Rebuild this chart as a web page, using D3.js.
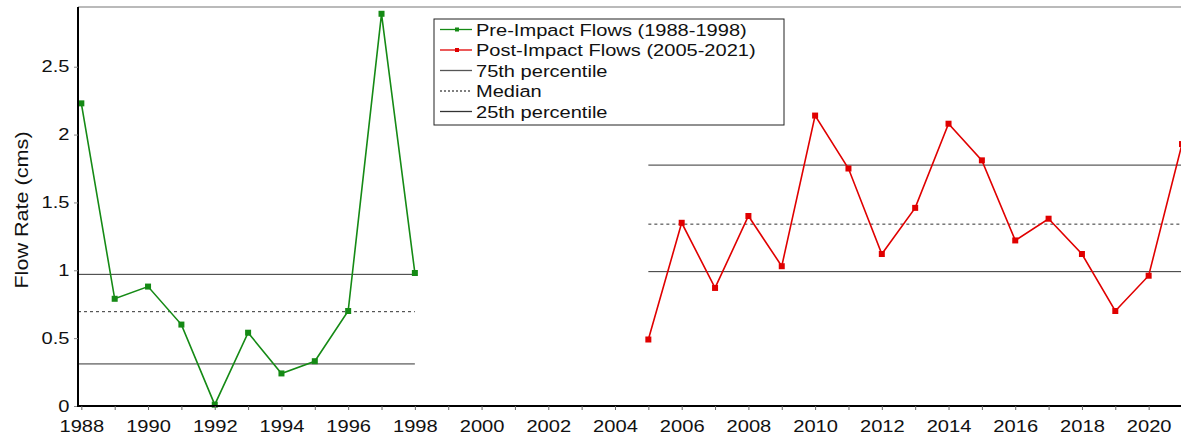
<!DOCTYPE html>
<html>
<head>
<meta charset="utf-8">
<script src="https://cdn.jsdelivr.net/npm/d3@7"></script>
<style>
	body { margin: 0; background: #fff; }
	svg text { font-family: "Liberation Sans", Arial, sans-serif; fill: #111; }
</style>
</head>
<body>
<svg id="chart" width="1181" height="436"></svg>
<script>
	// pre-impact flows
	let preYears = [1988,1989,1990,1991,1992,1993,1994,1995,1996,1997,1998];
	let preFlows = [2.23,0.79,0.88,0.60,0.01,0.54,0.24,0.33,0.70,2.89,0.98];
	let prePct = {p25: 0.31, median: 0.695, p75: 0.97};

	// post-impact flows
	let postYears = [2005,2006,2007,2008,2009,2010,2011,2012,2013,2014,2015,2016,2017,2018,2019,2020,2021];
	let postFlows = [0.49,1.35,0.87,1.40,1.03,2.14,1.75,1.12,1.46,2.08,1.81,1.22,1.38,1.12,0.70,0.96,1.93];
	let postPct = {p25: 0.99, median: 1.34, p75: 1.775};

	let yTicks = [0,0.5,1,1.5,2,2.5];
	let legendLabels = ["Pre-Impact Flows (1988-1998)","Post-Impact Flows (2005-2021)","75th percentile","Median","25th percentile"];

	let svg = d3.select("#chart");
	let margin = {left: 78, top: 7, bottom: 30};
	let width = 1181, height = 436;
	let stretch = 1.22; // reference text is drawn wider than plain Arial

	let x = d3.scaleLinear().domain([1987.9, 2021]).range([margin.left, 1182]);
	let y = d3.scaleLinear().domain([0, 2.94]).range([406, margin.top]);

	let plot = svg.append("g");

	// top frame line
	plot.append("line")
		.attr("x1", margin.left).attr("x2", width)
		.attr("y1", margin.top).attr("y2", margin.top)
		.attr("stroke", "#777").attr("stroke-width", 1.2);

	// percentile lines
	function pctLines(pct, x1, x2){
		let rows = [["p75",null],["median","3,3"],["p25",null]];
		for(let r of rows){
			plot.append("line")
				.attr("x1", x1).attr("x2", x2)
				.attr("y1", y(pct[r[0]])).attr("y2", y(pct[r[0]]))
				.attr("stroke", "#333").attr("stroke-width", 1)
				.attr("stroke-dasharray", r[1]);
		}
	}
	pctLines(prePct, margin.left, x(1998));
	pctLines(postPct, x(2005), width);

	function series(years, vals, color){
		let pts = years.map(function(d,i){ return [d, vals[i]]; });
		plot.append("path")
			.datum(pts)
			.attr("fill", "none")
			.attr("stroke", color)
			.attr("stroke-width", 1.6)
			.attr("d", d3.line().x(function(d){ return x(d[0]); }).y(function(d){ return y(d[1]); }));
		plot.selectAll(null)
			.data(pts)
			.enter()
			.append("rect")
			.attr("x", function(d){ return x(d[0]) - 3; })
			.attr("y", function(d){ return y(d[1]) - 3; })
			.attr("width", 6).attr("height", 6)
			.attr("fill", color);
	}
	series(preYears, preFlows, "#158a15");
	series(postYears, postFlows, "#e00000");

	// axes
	let yAxis = d3.axisLeft(y).tickValues(yTicks).tickSize(4).tickPadding(3)
		.tickFormat(function(d){ return d; });
	let gy = svg.append("g").attr("transform", "translate(" + margin.left + ",0)").call(yAxis);
	gy.select(".domain").attr("stroke", "#000").attr("stroke-width", 2)
		.attr("d", "M0," + y(0) + "V" + margin.top);
	gy.selectAll(".tick line").attr("stroke", "#888");
	gy.selectAll("text").style("font-size", "16.5px")
		.attr("transform", "scale(" + stretch + ",1)");

	let xAxis = d3.axisBottom(x).tickValues(d3.range(1988, 2022)).tickSize(4).tickPadding(10)
		.tickFormat(function(d){ return d % 2 == 0 ? d : ""; });
	let gx = svg.append("g").attr("transform", "translate(0," + y(0) + ")").call(xAxis);
	gx.select(".domain").attr("stroke", "#000").attr("stroke-width", 2)
		.attr("d", "M" + (margin.left - 1) + ",0H" + width);
	gx.selectAll(".tick line").attr("stroke", "#666");
	gx.selectAll("text").style("font-size", "16.5px")
		.attr("transform", "scale(" + stretch + ",1)");

	// y label
	svg.append("text")
		.attr("transform", "translate(28,210) rotate(-90) scale(1.2,1)")
		.attr("text-anchor", "middle")
		.style("font-size", "18px")
		.text("Flow Rate (cms)");

	// legend
	let lg = svg.append("g").attr("transform", "translate(434,19)");
	lg.append("rect")
		.attr("width", 350).attr("height", 106)
		.attr("fill", "#fff").attr("stroke", "#222").attr("stroke-width", 1);
	let legendStyle = [
		{color: "#158a15", dash: null, marker: true},
		{color: "#e00000", dash: null, marker: true},
		{color: "#555", dash: null, marker: false},
		{color: "#555", dash: "2,2", marker: false},
		{color: "#333", dash: null, marker: false}
	];
	legendLabels.forEach(function(label, i){
		let ly = 10.5 + i * 20.5;
		let row = lg.append("g").attr("transform", "translate(0," + ly + ")");
		row.append("line")
			.attr("x1", 6).attr("x2", 38)
			.attr("stroke", legendStyle[i].color).attr("stroke-width", 1.3)
			.attr("stroke-dasharray", legendStyle[i].dash);
		if(legendStyle[i].marker){
			row.append("rect").attr("x", 21).attr("y", -2).attr("width", 4).attr("height", 4)
				.attr("fill", legendStyle[i].color);
		}
		row.append("text")
			.attr("transform", "translate(42,0) scale(1.18,1)")
			.attr("dy", "0.36em")
			.style("font-size", "17px")
			.text(label);
	});
</script>
</body>
</html>
